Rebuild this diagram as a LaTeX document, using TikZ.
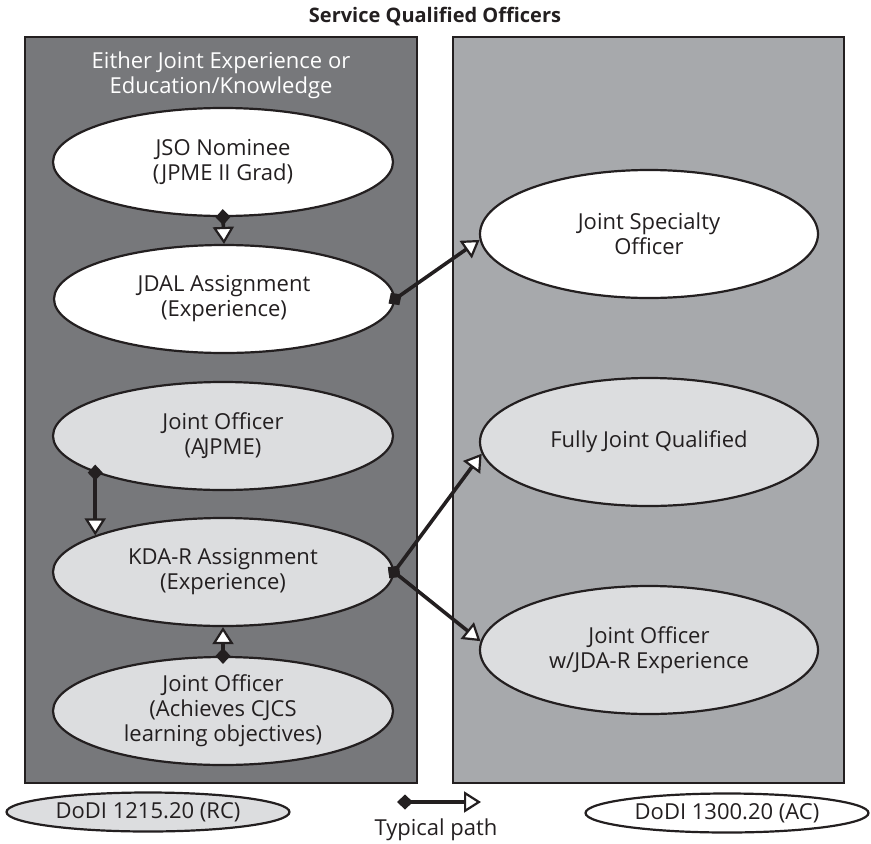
\documentclass[tikz,border=0pt]{standalone}
\usepackage{fontspec}
\setmainfont{Open Sans}
\usetikzlibrary{shapes.geometric,arrows.meta,positioning}
\definecolor{rcgray}{RGB}{119,120,123}
\definecolor{acgray}{RGB}{167,169,172}
\definecolor{lightfill}{RGB}{220,221,223}
\definecolor{inkblack}{RGB}{35,31,32}

\begin{document}
\begin{tikzpicture}[x=1pt, y=-1pt, font=\fontsize{22}{25}\selectfont,
    stage/.style={ellipse, draw=inkblack, line width=2.2pt, text=inkblack, align=center, inner sep=0pt, minimum width=340pt, minimum height=108pt},
    goal/.style={stage, minimum width=338pt, minimum height=128pt},
    rcfill/.style={fill=lightfill},
    acfill/.style={fill=white},
    key/.style={ellipse, draw=inkblack, line width=2.2pt, text=inkblack, inner sep=0pt, minimum width=283pt, minimum height=39pt},
    route/.style={draw=inkblack, line width=3.6pt, {Diamond[length=16pt,width=15pt]}-{Triangle[length=17pt,width=21pt,fill=white,line width=2.2pt]}, shorten <=-8pt}]
    \useasboundingbox (0,0) rectangle (871,844);

    % the two groups of officers
    \draw[draw=inkblack, line width=2.2pt, fill=rcgray] (25,37) rectangle (417,783);
    \draw[draw=inkblack, line width=2.2pt, fill=acgray] (453,37) rectangle (844,783);
    \node[text=inkblack, font=\fontsize{20}{24}\selectfont\bfseries] (title) at (435,17) {Service Qualified Officers};
    \node[text=white, align=center] (rclabel) at (221,75) {Either Joint Experience or\\Education/Knowledge};

    \node[stage, acfill] (nominee) at (223,162) {JSO Nominee\\(JPME II Grad)};
    \node[stage, acfill] (jdal) at (224,299) {JDAL Assignment\\(Experience)};
    \node[stage, rcfill] (ajpme) at (223,436) {Joint Officer\\(A\kern-1.5pt JPME)};
    \node[stage, rcfill] (kdar) at (223,572) {KDA-R Assignment\\(Experience)};
    \node[stage, rcfill] (cjcs) at (223,711) {Joint Officer\\(Achieves CJCS\\learning objectives)};

    \node[goal, acfill] (jso) at (649,234) {Joint Specialty\\Officer};
    \node[goal, rcfill] (fjq) at (649,442) {Fully Joint Qualified};
    \node[goal, rcfill] (jdar) at (649,650) {Joint Officer\\w/JDA-R Experience};

    \draw[route] (nominee.south) -- (jdal.north);
    \draw[route] (jdal.east) -- (jso.182);
    \draw[route] (ajpme.196) -- (kdar.164);
    \draw[route] (kdar.east) -- (fjq.184);
    \draw[route] (kdar.east) -- (jdar.177);
    \draw[route] (cjcs.north) -- (kdar.south);

    % legend
    \node[key, rcfill] (rckey) at (148,812) {DoDI 1215.20 (RC)};
    \node[key, acfill] (ackey) at (727,813) {DoDI 1300.20 (AC)};
    \coordinate (keystart) at (397,802);
    \coordinate (keyend) at (481,802);
    \draw[route, shorten <=0pt] (keystart) -- (keyend);
    \node[text=inkblack] (keytext) at (436,830) {Typical path};
\end{tikzpicture}
\end{document}
